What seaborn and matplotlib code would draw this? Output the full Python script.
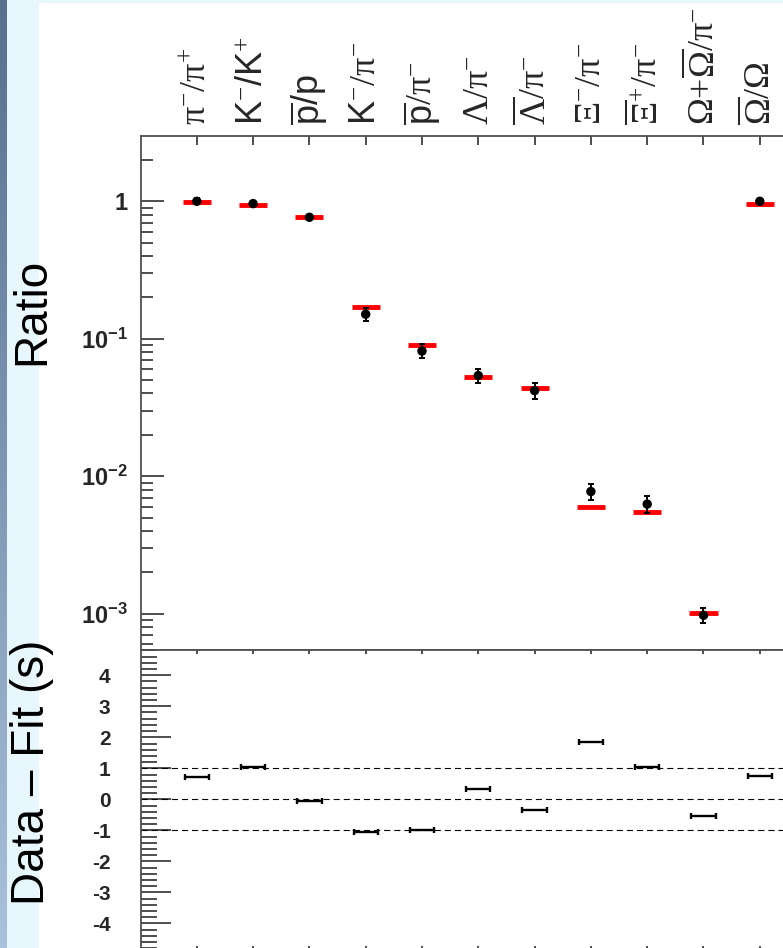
import numpy as np
import matplotlib
matplotlib.use("Agg")
import matplotlib.pyplot as plt
import seaborn as sns
from matplotlib.patches import Rectangle
from matplotlib.ticker import FixedLocator, MultipleLocator, LogLocator, NullFormatter, NullLocator
from matplotlib.colors import LinearSegmentedColormap

# ---------------- data ----------------
labels = [
    r'$\mathrm{\pi}^{-}/\mathrm{\pi}^{+}$',
    r'$\mathsf{K}^{-}\mathsf{/K}^{+}$',
    r'$\overline{\mathsf{p}}\mathsf{/p}$',
    r'$\mathsf{K}^{-}/\mathrm{\pi}^{-}$',
    r'$\overline{\mathsf{p}}/\mathrm{\pi}^{-}$',
    r'$\Lambda/\mathrm{\pi}^{-}$',
    r'$\overline{\Lambda}/\mathrm{\pi}^{-}$',
    r'$\Xi^{-}/\mathrm{\pi}^{-}$',
    r'$\overline{\Xi}^{+}/\mathrm{\pi}^{-}$',
    r'$\Omega{+}\overline{\Omega}/\mathrm{\pi}^{-}$',
    r'$\overline{\Omega}/\Omega$',
]
ratio_data = [1.00, 0.962, 0.765, 0.151, 0.0814, 0.054, 0.042, 0.00774, 0.00627, 0.000975, 1.00]
ratio_err = [0.05, 0.04, 0.03, 0.017, 0.0095, 0.0065, 0.0056, 0.0010, 0.0009, 0.00012, 0.04]
ratio_fit = [0.99, 0.935, 0.77, 0.171, 0.0905, 0.0527, 0.0435, 0.0060, 0.00552, 0.00102, 0.956]
residual = [0.71, 1.05, -0.065, -1.06, -0.99, 0.34, -0.355, 1.84, 1.05, -0.55, 0.75]
upper_ticks = [1e-3, 1e-2, 1e-1, 1.0]
upper_ticklabels = [r'$\mathbf{10^{-3}}$', r'$\mathbf{10^{-2}}$', r'$\mathbf{10^{-1}}$', '1']
lower_ticks = [-4, -3, -2, -1, 0, 1, 2, 3, 4]
lower_ticklabels = ['-4', '-3', '-2', '-1', '0', '1', '2', '3', '4']
ref_lines = [-1, 0, 1]

# ---------------- style ----------------
sns.set_theme(style="ticks")
plt.rcParams['font.family'] = ['Liberation Sans', 'DejaVu Sans']
plt.rcParams['mathtext.fontset'] = 'custom'
plt.rcParams['mathtext.rm'] = 'Liberation Serif'
plt.rcParams['mathtext.sf'] = 'Liberation Sans'
plt.rcParams['mathtext.it'] = 'Liberation Serif:italic'
plt.rcParams['mathtext.bf'] = 'Liberation Sans:bold'
plt.rcParams['axes.unicode_minus'] = False

W, H = 783, 948
fig = plt.figure(figsize=(W / 100, H / 100), dpi=100, facecolor='white')

# background decorations
fig.add_artist(Rectangle((7 / W, 0), (39 - 7) / W, 1, transform=fig.transFigure,
                         facecolor='#e8f6fd', edgecolor='none', zorder=-5))
fig.add_artist(Rectangle((7 / W, 1 - 3 / H), 1, 3 / H, transform=fig.transFigure,
                         facecolor='#e8f6fd', edgecolor='none', zorder=-5))
gax = fig.add_axes([0, 0, 7 / W, 1])
cmap = LinearSegmentedColormap.from_list('g', ['#58708e', '#7f97b4', '#aac1dc'])
gax.imshow(np.linspace(0, 1, 256).reshape(-1, 1), aspect='auto', cmap=cmap)
gax.axis('off')

left = 140.5 / W
width = 12 * 56.3 / W
top_px, mid_px, bot_px = 136.3, 650.3, 950.0
ax1 = fig.add_axes([left, 1 - mid_px / H, width, (mid_px - top_px) / H])
ax2 = fig.add_axes([left, 1 - bot_px / H, width, (bot_px - mid_px) / H])

idx = np.arange(len(labels))
frame_c = '#505050'
tick_c = '#303030'

# ---------------- upper panel ----------------
ax1.set_yscale('log')
ax1.hlines(ratio_fit, idx - 0.25, idx + 0.25, colors='red', lw=3.5, zorder=2)
ax1.errorbar(idx, ratio_data, yerr=ratio_err, fmt='none', ecolor='black',
             elinewidth=1.4, capsize=2.5, capthick=1.4, zorder=3)
sns.scatterplot(x=idx, y=ratio_data, ax=ax1, color='black', s=46,
                edgecolor='none', zorder=4, legend=False)
ax1.set_xlim(-1, 11)
ax1.set_ylim(5.42e-4, 2.97)
ax1.yaxis.set_major_locator(FixedLocator(upper_ticks))
ax1.set_yticklabels(upper_ticklabels, fontweight='bold')
ax1.yaxis.set_minor_locator(LogLocator(base=10, subs=np.arange(2, 10)))
ax1.yaxis.set_minor_formatter(NullFormatter())
ax1.tick_params(axis='y', which='major', direction='in', length=16.5, width=1.2,
                color=tick_c, labelsize=17, pad=9, right=False)
ax1.tick_params(axis='y', which='minor', direction='in', length=8.6, width=1.2,
                color=tick_c, right=False)
ax1.set_xticks(idx)
ax1.set_xticklabels(labels)
ax1.xaxis.set_minor_locator(NullLocator())
ax1.tick_params(axis='x', which='major', direction='in', length=6.5, width=1.2,
                color=tick_c, top=True, bottom=False, labeltop=True,
                labelbottom=False, pad=8, labelsize=26, labelrotation=90)
ax1.set_xlabel('')
ax1.set_ylabel('')

# ---------------- lower panel ----------------
for yv in ref_lines:
    ax2.axhline(yv, color='black', lw=0.8, linestyle=(0, (5.5, 3.6)), zorder=1)
ax2.errorbar(idx, residual, xerr=0.215, fmt='none', ecolor='black',
             elinewidth=1.7, capsize=2.0, capthick=1.7, zorder=3)
ax2.set_xlim(-1, 11)
ax2.set_ylim(-4.86, 4.806)
ax2.set_yticks(lower_ticks)
ax2.set_yticklabels(lower_ticklabels, fontweight='bold')
ax2.yaxis.set_minor_locator(MultipleLocator(0.2))
ax2.tick_params(axis='y', which='major', direction='in', length=21.6, width=1.2,
                color=tick_c, labelsize=15, pad=21.6, right=False)
ax2.tick_params(axis='y', which='minor', direction='in', length=11.2, width=1.2,
                color=tick_c, right=False)
ax2.set_xticks(idx)
ax2.set_xticklabels([])
ax2.xaxis.set_minor_locator(NullLocator())
ax2.tick_params(axis='x', which='major', direction='in', length=2.6, width=1.2,
                color=tick_c, top=True, bottom=True, labelbottom=False)

for ax in (ax1, ax2):
    for sp in ax.spines.values():
        sp.set_color(frame_c)
        sp.set_linewidth(1.3)
    ax.set_facecolor('white')
    ax.grid(False)

# axis titles
fig.text(32 / W, 1 - 311 / H, 'Ratio', rotation=90, ha='center', va='center',
         fontsize=33, color='black')
fig.text(32 / W, 1 - 772.5 / H, 'Data \u2013 Fit (s)', rotation=90, ha='center',
         va='center', fontsize=33, color='black')

fig.savefig('out.png', dpi=100, facecolor='white')
